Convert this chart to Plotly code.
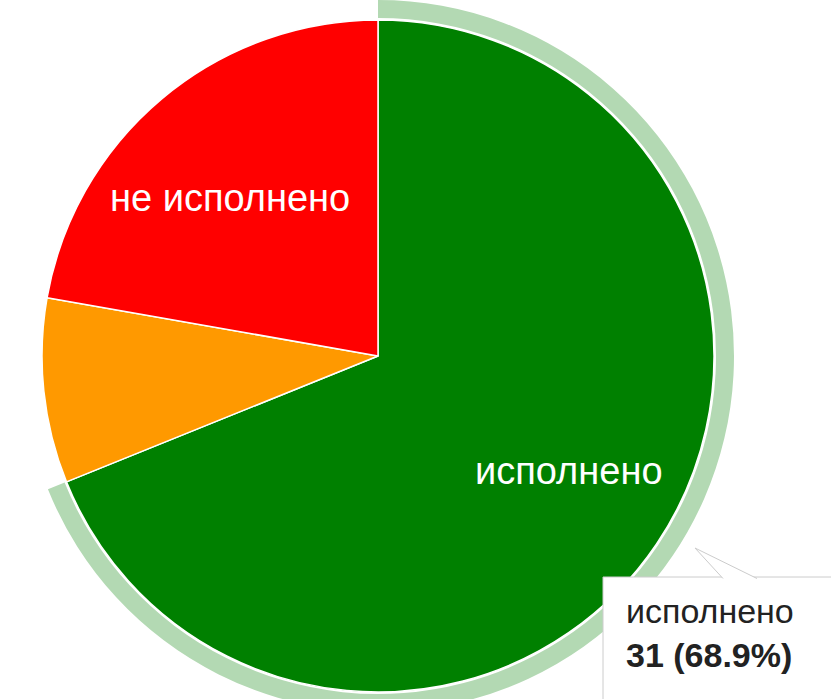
import math
import plotly.graph_objects as go

# ---- data ----
labels = ["исполнено", "частично исполнено", "не исполнено"]
values = [31, 4, 10]
colors = ["#008000", "#ff9900", "#ff0000"]
shown_labels = ["исполнено", "", "не исполнено"]
highlight = 0  # slice with the tooltip / hover ring

# ---- geometry (pixels) ----
W, H = 831, 720
cx, cy = 378, 356
R = 336
ring_in, ring_out = R + 2, R + 20


def dom(r):
    return dict(
        x=[max(0.0, (cx - r) / W), min(1.0, (cx + r) / W)],
        y=[max(0.0, (H - cy - r) / H), min(1.0, (H - cy + r) / H)],
    )


def px(x, y):
    return x / W, (H - y) / H


total = sum(values)
ring_colors = ["#b3d9b3" if i == highlight else "rgba(0,0,0,0)" for i in range(len(values))]

fig = go.Figure()
fig.add_trace(go.Pie(
    values=values, labels=labels, sort=False, direction="clockwise", rotation=0,
    hole=ring_in / ring_out, domain=dom(ring_out),
    marker=dict(colors=ring_colors, line=dict(width=0)),
    textinfo="none", hoverinfo="skip", showlegend=False,
))
fig.add_trace(go.Pie(
    values=values, labels=labels, sort=False, direction="clockwise", rotation=0,
    domain=dom(R),
    marker=dict(colors=colors, line=dict(color="white", width=1.5)),
    textinfo="none", showlegend=False,
))

FONT = "Arial, Liberation Sans, sans-serif"

# slice labels
annotations = []
cum = 0
fx, fy = 0.685, 0.613
for lab, v in zip(shown_labels, values):
    mid = (cum + v / 2) / total * 2 * math.pi
    cum += v
    if not lab:
        continue
    x, y = px(cx + fx * R * math.sin(mid), cy - fy * R * math.cos(mid))
    annotations.append(dict(
        x=x, y=y, xref="paper", yref="paper", text=lab, showarrow=False,
        font=dict(family=FONT, size=38, color="white"),
        xanchor="center", yanchor="middle",
    ))

# tooltip
tip_name = labels[highlight]
tip_val = f"{values[highlight]} ({values[highlight] / total * 100:.1f}%)"
tx, ty = px(624, 633)
annotations.append(dict(x=tx, y=ty, xref="paper", yref="paper",
                        text=f"{tip_name}<br><b>{tip_val}</b>",
                        showarrow=False, xanchor="left", yanchor="middle", align="left",
                        font=dict(family=FONT, size=34, color="#222222")))

bx0, by0 = px(603, 577)
bx1, by1 = px(850, 740)
tA = px(723, 578.5)
tB = px(695, 548)
tC = px(757, 578.5)
shapes = [
    dict(type="rect", xref="paper", yref="paper", x0=bx0, y0=by1, x1=bx1, y1=by0,
         fillcolor="white", line=dict(color="#cccccc", width=1)),
    dict(type="path", xref="paper", yref="paper",
         path=f"M {tA[0]},{tA[1]} L {tB[0]},{tB[1]} L {tC[0]},{tC[1]}",
         fillcolor="white", line=dict(color="#cccccc", width=1)),
]

fig.update_layout(
    width=W, height=H, margin=dict(l=0, r=0, t=0, b=0),
    paper_bgcolor="white", plot_bgcolor="white", showlegend=False,
    annotations=annotations, shapes=shapes,
)

fig.write_html(
    "out.html",
    config={"displayModeBar": False},
    post_script="document.body.style.margin='0';document.body.style.overflow='hidden';document.documentElement.style.overflow='hidden';",
)
